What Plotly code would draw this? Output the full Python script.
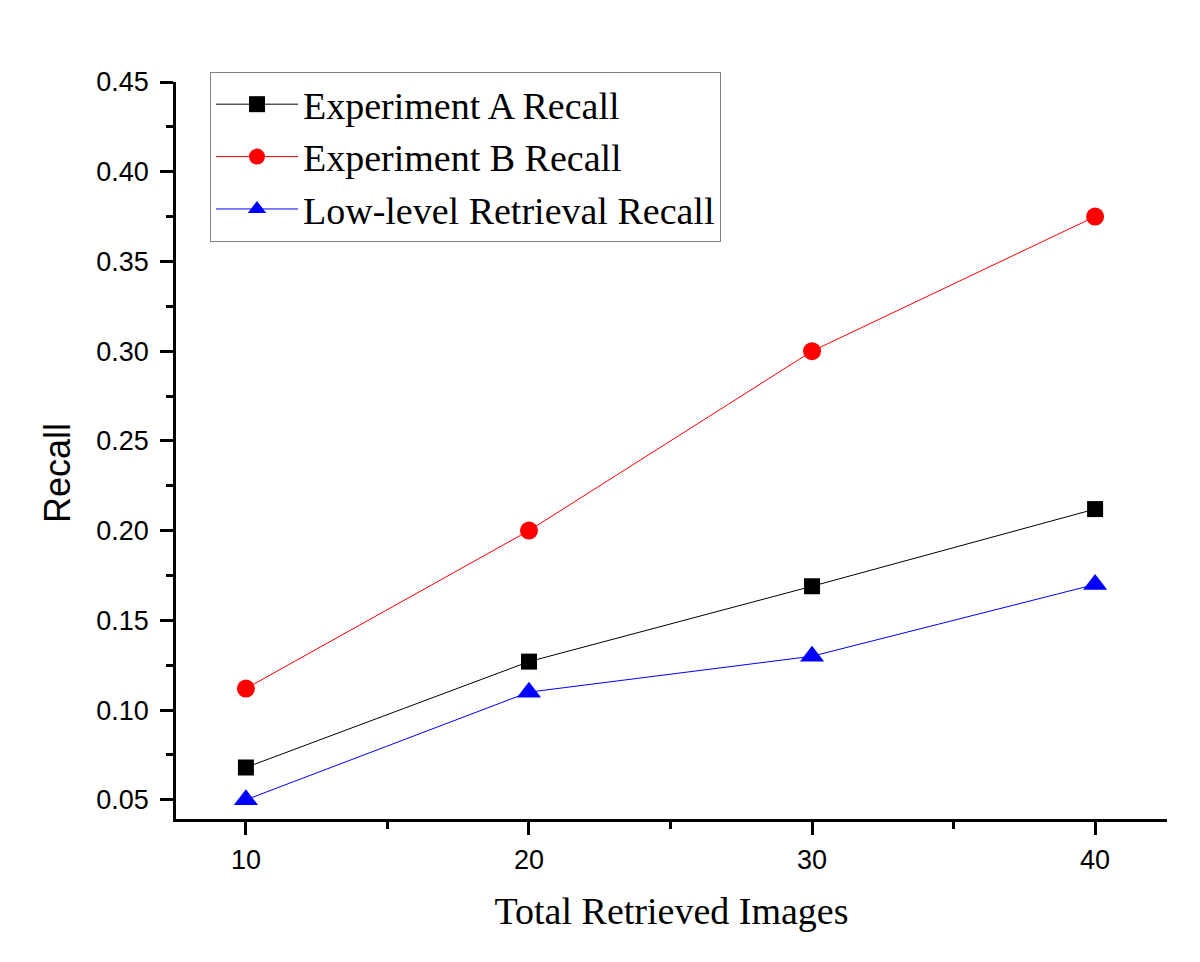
import plotly.graph_objects as go

x_vals = [10, 20, 30, 40]
exp_a = [0.068, 0.127, 0.169, 0.212]
exp_b = [0.112, 0.200, 0.300, 0.375]
low_level = [0.050, 0.110, 0.130, 0.170]

names = ["Experiment A Recall", "Experiment B Recall", "Low-level Retrieval Recall"]
colors = ["black", "#ff0000", "#0000ff"]
symbols = ["square", "circle", "triangle-up"]
sizes = [16, 18, 21]

fig = go.Figure()
for name, ys, c, s, sz in zip(names, [exp_a, exp_b, low_level], colors, symbols, sizes):
    fig.add_trace(go.Scatter(
        x=x_vals, y=ys, name=name, mode="lines+markers",
        line=dict(color=c, width=1),
        marker=dict(color=c, symbol=s, size=sz, line=dict(width=0)),
    ))

fig.update_layout(
    width=1200, height=962,
    paper_bgcolor="white", plot_bgcolor="white",
    margin=dict(l=168, r=41, t=74, b=151),
    showlegend=True,
    legend=dict(
        x=0.0343, y=1.0136, xanchor="left", yanchor="top",
        bgcolor="white", bordercolor="#808080", borderwidth=1,
        font=dict(family="Liberation Serif", size=38, color="black"),
        itemwidth=82, tracegroupgap=0,
    ),
    xaxis=dict(
        range=[7.53, 42.54], tickvals=[10, 20, 30, 40],
        showline=True, linecolor="black", linewidth=2.5, mirror=False,
        ticks="outside", ticklen=13, tickwidth=2.5, tickcolor="black",
        minor=dict(tickvals=[15, 25, 35], ticks="outside", ticklen=7, tickwidth=2.5, tickcolor="black"),
        showgrid=False, zeroline=False,
        tickfont=dict(family="Liberation Sans", size=27, color="black"),
        ticklabelstandoff=2,
        title=dict(text="Total Retrieved Images", font=dict(family="Liberation Serif", size=38, color="black"), standoff=24),
    ),
    yaxis=dict(
        range=[0.0393, 0.45], tickvals=[0.05, 0.10, 0.15, 0.20, 0.25, 0.30, 0.35, 0.40, 0.45],
        ticktext=["0.05", "0.10", "0.15", "0.20", "0.25", "0.30", "0.35", "0.40", "0.45"],
        showline=True, linecolor="black", linewidth=2.5, mirror=False,
        ticks="outside", ticklen=13, tickwidth=2.5, tickcolor="black",
        minor=dict(tickvals=[0.075, 0.125, 0.175, 0.225, 0.275, 0.325, 0.375, 0.425], ticks="outside", ticklen=7, tickwidth=2.5, tickcolor="black"),
        showgrid=False, zeroline=False,
        tickfont=dict(family="Liberation Sans", size=27, color="black"),
        ticklabelstandoff=6,
    ),
    annotations=[dict(
        text="Recall", textangle=-90, xref="paper", yref="paper",
        x=-0.119, y=0.4695, xanchor="center", yanchor="middle", showarrow=False,
        font=dict(family="Liberation Sans", size=36, color="black"),
    )],
)

fig.write_html("out.html")
